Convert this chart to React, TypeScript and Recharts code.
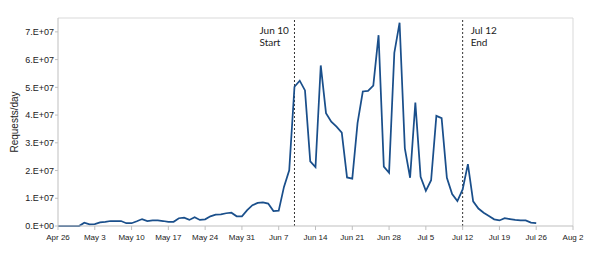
import React from "react";
import {
  LineChart, Line, XAxis, YAxis, ReferenceLine, Label,
} from "recharts";

// ── Data (daily requests, day 0 = Apr 26) ─────────────────────

const requests: number[] = [
  0, 0, 0, 0, 0, 0.12e7, 0.06e7, 0.07e7, 0.13e7, 0.15e7,
  0.18e7, 0.18e7, 0.18e7, 0.1e7, 0.1e7, 0.17e7, 0.25e7, 0.18e7, 0.2e7, 0.2e7,
  0.18e7, 0.15e7, 0.15e7, 0.28e7, 0.3e7, 0.22e7, 0.32e7, 0.22e7, 0.24e7, 0.35e7,
  0.41e7, 0.42e7, 0.46e7, 0.48e7, 0.35e7, 0.35e7, 0.57e7, 0.75e7, 0.83e7, 0.85e7,
  0.81e7, 0.54e7, 0.55e7, 1.41e7, 2.01e7, 5.02e7, 5.24e7, 4.89e7, 2.33e7, 2.12e7,
  5.79e7, 4.07e7, 3.76e7, 3.58e7, 3.37e7, 1.75e7, 1.71e7, 3.71e7, 4.85e7, 4.87e7,
  5.06e7, 6.88e7, 2.14e7, 1.92e7, 6.24e7, 7.33e7, 2.8e7, 1.74e7, 4.45e7, 1.77e7,
  1.27e7, 1.65e7, 3.97e7, 3.89e7, 1.74e7, 1.15e7, 0.9e7, 1.32e7, 2.23e7, 0.89e7,
  0.63e7, 0.48e7, 0.36e7, 0.24e7, 0.2e7, 0.28e7, 0.25e7, 0.22e7, 0.2e7, 0.2e7,
  0.12e7, 0.1e7,
];

const xTickDays = [0, 7, 14, 21, 28, 35, 42, 49, 56, 63, 70, 77, 84, 91, 98];
const xTickLabels = [
  "Apr 26", "May 3", "May 10", "May 17", "May 24", "May 31", "Jun 7",
  "Jun 14", "Jun 21", "Jun 28", "Jul 5", "Jul 12", "Jul 19", "Jul 26", "Aug 2",
];
const yTicks = [0, 1e7, 2e7, 3e7, 4e7, 5e7, 6e7, 7e7];

const startDay = 45; // Jun 10
const endDay = 77;   // Jul 12

const data = requests.map((v, i) => ({ day: i, requests: v }));

// ── Helpers ───────────────────────────────────────────────────

const fmtExp = (v: number) => (v === 0 ? "0.E+00" : `${Math.round(v / 1e7)}.E+07`);
const fmtDay = (d: number) => xTickLabels[xTickDays.indexOf(d)] ?? "";

const noteFont = { fontFamily: "Lato, 'Open Sans', sans-serif", fontSize: 10, fill: "#222" };

const makeNote = (lines: string[], dx: number) => (props: any) => {
  const vb = props.viewBox || {};
  const x = (vb.x ?? 0) + dx;
  const y = vb.y ?? 0;
  return (
    <g>
      {lines.map((t, i) => (
        <text key={i} x={x} y={y + 15.5 + i * 12.2} style={noteFont}>{t}</text>
      ))}
    </g>
  );
};

// ── Chart ─────────────────────────────────────────────────────

export default function App() {
  return (
    <div style={{ position: "absolute", left: 0, top: 0, width: 598, height: 257, background: "#fff" }}>
      <LineChart width={598} height={257} data={data} margin={{ top: 18, right: 25, left: 0, bottom: 0 }}>
        <XAxis
          dataKey="day"
          type="number"
          domain={[0, 98]}
          ticks={xTickDays}
          tickFormatter={fmtDay}
          interval={0}
          height={31}
          tick={{ fontSize: 8, fill: "#222", fontFamily: "'Liberation Sans', Arial, sans-serif" }}
          tickSize={4}
          tickMargin={4}
          stroke="#bfbfbf"
        />
        <YAxis
          domain={[0, 7.5e7]}
          ticks={yTicks}
          tickFormatter={fmtExp}
          width={58}
          tick={{ fontSize: 9, fill: "#222", fontFamily: "'Liberation Sans', Arial, sans-serif" }}
          tickSize={3}
          tickMargin={1}
          stroke="#bfbfbf"
        >
          <Label
            value="Requests/day"
            angle={-90}
            position="insideLeft"
            offset={14}
            style={{ fontSize: 10, fill: "#222", textAnchor: "middle", fontFamily: "'Liberation Sans', Arial, sans-serif" }}
          />
        </YAxis>
        <ReferenceLine y={7.5e7} stroke="#d9d9d9" />
        <ReferenceLine x={98} stroke="#d9d9d9" />
        <ReferenceLine
          x={startDay}
          stroke="#333"
          strokeDasharray="2 2"
          label={makeNote(["Jun 10", "Start"], -35)}
        />
        <ReferenceLine
          x={endDay}
          stroke="#333"
          strokeDasharray="2 2"
          label={makeNote(["Jul 12", "End"], 8)}
        />
        <Line
          type="linear"
          dataKey="requests"
          stroke="#1a4f8b"
          strokeWidth={1.75}
          dot={false}
          isAnimationActive={false}
        />
      </LineChart>
    </div>
  );
}
